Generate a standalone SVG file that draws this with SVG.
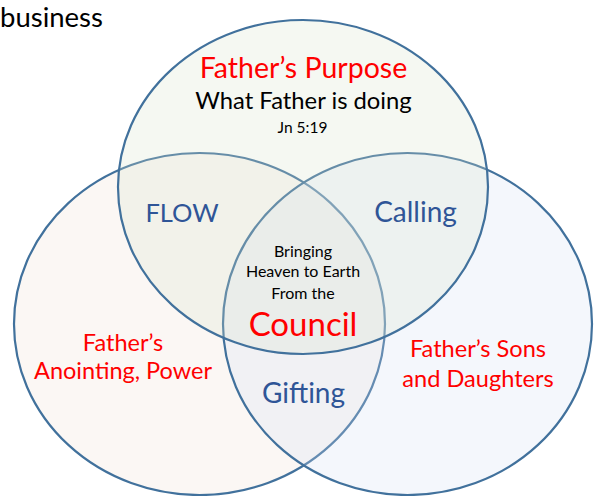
<svg xmlns="http://www.w3.org/2000/svg" width="595" height="496" viewBox="0 0 595 496">
<style>
.ring{stroke:#41719C;stroke-width:2.2;fill-opacity:0.25}
text{font-family:Lato,"Open Sans","Liberation Sans",sans-serif;text-anchor:middle}
.red{fill:#FF0000}
.blue{fill:#2F5597}
.blk{fill:#000000}
</style>
<rect width="595" height="496" fill="#FFFFFF"/>
<g id="left-circle">
<ellipse class="ring" cx="199.5" cy="324" rx="185.5" ry="171" fill="#EFDFD3"/>
</g>
<g id="right-circle">
<ellipse class="ring" cx="407.5" cy="324" rx="184.5" ry="171" fill="#D3DFF3"/>
</g>
<g id="top-circle">
<ellipse class="ring" cx="303" cy="187" rx="185" ry="167" fill="#D7E3CB"/>
</g>
<g id="connectors"></g>
<g id="labels">
<text x="0" y="27" class="blk" style="text-anchor:start;font-size:27.5px">business</text>
<text x="303.5" y="78" class="red" style="font-size:28.5px">Father’s Purpose</text>
<text x="303.5" y="109" class="blk" style="font-size:23.8px">What Father is doing</text>
<text x="302.5" y="133" class="blk" style="font-size:15.5px">Jn 5:19</text>
<text x="182" y="222" class="blue" style="font-size:25.5px">FLOW</text>
<text x="415.5" y="222" class="blue" style="font-size:28px">Calling</text>
<text x="303" y="257" class="blk" style="font-size:16px">Bringing</text>
<text x="303" y="277" class="blk" style="font-size:16px">Heaven to Earth</text>
<text x="303" y="299" class="blk" style="font-size:16px">From the</text>
<text x="303" y="336" class="red" style="font-size:33px">Council</text>
<text x="123" y="351" class="red" style="font-size:23.5px">Father’s</text>
<text x="123" y="379" class="red" style="font-size:23.5px">Anointing, Power</text>
<text x="303.5" y="403" class="blue" style="font-size:28px">Gifting</text>
<text x="478" y="357" class="red" style="font-size:23.6px">Father’s Sons</text>
<text x="478" y="387" class="red" style="font-size:23.6px">and Daughters</text>
</g>
</svg>
